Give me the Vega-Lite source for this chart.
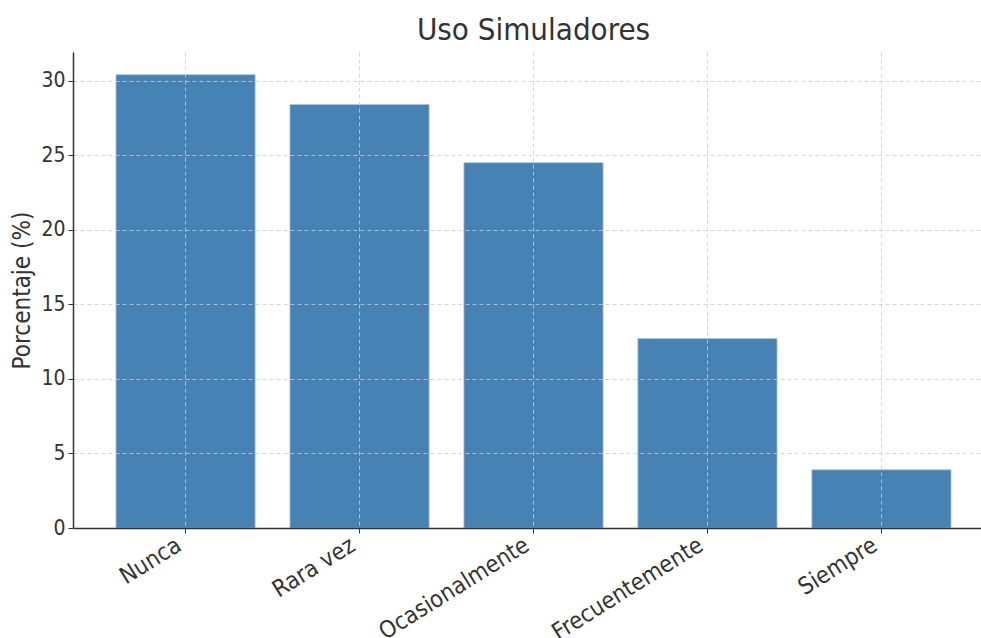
{
  "$schema": "https://vega.github.io/schema/vega-lite/v6.json",
  "width": 921,
  "height": 476,
  "autosize": {"type": "none"},
  "padding": {"left": 73, "top": 52, "right": 0, "bottom": 110},
  "background": "white",
  "title": {"text": "Uso Simuladores", "fontSize": 31, "font": "DejaVu Sans Condensed", "fontWeight": "normal", "color": "#333333", "offset": 5},
  "config": {"view": {"stroke": null}},
  "data": {"values": [
    {"categoria": "Nunca", "porcentaje": 30.4},
    {"categoria": "Rara vez", "porcentaje": 28.4},
    {"categoria": "Ocasionalmente", "porcentaje": 24.5},
    {"categoria": "Frecuentemente", "porcentaje": 12.7},
    {"categoria": "Siempre", "porcentaje": 3.9}
  ]},
  "mark": {"type": "bar", "color": "#4682b4", "stroke": "#a9c4de", "strokeWidth": 0.8},
  "encoding": {
    "x": {
      "field": "categoria", "type": "nominal", "sort": null,
      "scale": {"paddingInner": 0.2, "paddingOuter": 0.247},
      "axis": {
        "title": null, "labelAngle": -32, "labelAlign": "right", "labelBaseline": "bottom",
        "labelFont": "DejaVu Sans Condensed", "labelFontSize": 23.5, "labelColor": "#333333", "labelPadding": 20,
        "tickColor": "#333333", "tickSize": 5, "tickWidth": 1,
        "domainColor": "#333333", "domainWidth": 1.5,
        "grid": true, "gridDash": [4, 3], "gridColor": "#cccccc", "gridWidth": 0.8,
        "zindex": 1
      }
    },
    "y": {
      "field": "porcentaje", "type": "quantitative",
      "scale": {"domain": [0, 31.92], "nice": false},
      "axis": {
        "title": "Porcentaje (%)", "titleFont": "DejaVu Sans Condensed", "titleFontSize": 24, "titleFontWeight": "normal", "titleColor": "#333333", "titlePadding": 6,
        "values": [0, 5, 10, 15, 20, 25, 30],
        "labelFont": "DejaVu Sans Condensed", "labelFontSize": 21, "labelColor": "#333333", "labelPadding": 3,
        "tickColor": "#333333", "tickSize": 5, "tickWidth": 1,
        "domainColor": "#333333", "domainWidth": 1.5,
        "grid": true, "gridDash": [4, 3], "gridColor": "#cccccc", "gridWidth": 0.8,
        "zindex": 1
      }
    }
  }
}
